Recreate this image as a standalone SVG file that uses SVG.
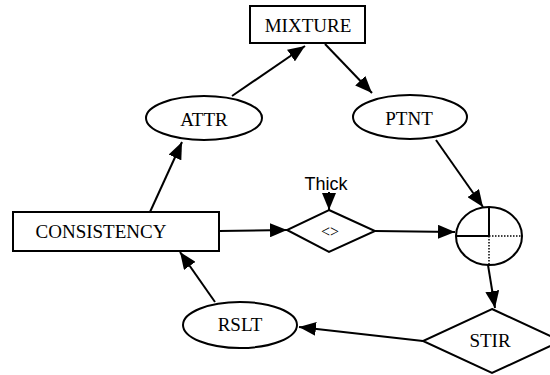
<svg xmlns="http://www.w3.org/2000/svg" width="550" height="375" viewBox="0 0 550 375">
  <style>
    .shape { fill: #fff; stroke: #000; stroke-width: 2; }
    .lbl { font-family: "Liberation Serif", "Times New Roman", serif; font-size: 19px; fill: #000; text-anchor: middle; }
    .sans { font-family: "Liberation Sans", Arial, sans-serif; font-size: 18px; fill: #000; text-anchor: middle; }
    .edge { fill: none; stroke: #000; stroke-width: 2; marker-end: url(#arrow); }
  </style>
  <defs>
    <marker id="arrow" markerUnits="userSpaceOnUse" markerWidth="18" markerHeight="14" refX="17" refY="7" orient="auto">
      <path d="M0,0 L17,7 L0,14 z" fill="#000"/>
    </marker>
  </defs>
  <rect width="550" height="375" fill="#fff"/>

  <g id="connectors">
    <line class="edge" x1="232" y1="96" x2="305" y2="46"/>
    <line class="edge" x1="325" y1="44" x2="372" y2="93"/>
    <line class="edge" x1="436" y1="140" x2="483" y2="207"/>
    <line class="edge" x1="150" y1="212" x2="182" y2="142"/>
    <line class="edge" x1="219" y1="231" x2="287" y2="230"/>
    <line class="edge" x1="329" y1="192" x2="329" y2="210"/>
    <line class="edge" x1="375" y1="231" x2="455" y2="232"/>
    <line class="edge" x1="488" y1="265" x2="495" y2="308"/>
    <line class="edge" x1="423" y1="341" x2="299" y2="327"/>
    <line class="edge" x1="215" y1="302" x2="180" y2="252"/>
  </g>

  <g id="mixture">
    <rect class="shape" x="250" y="6" width="115" height="37"/>
    <text class="lbl" x="308" y="32">MIXTURE</text>
  </g>

  <g id="attr">
    <ellipse class="shape" cx="204" cy="118" rx="58" ry="22"/>
    <text class="lbl" x="204" y="126">ATTR</text>
  </g>

  <g id="ptnt">
    <ellipse class="shape" cx="410" cy="117" rx="57" ry="22"/>
    <text class="lbl" x="409" y="125">PTNT</text>
  </g>

  <g id="consistency">
    <rect class="shape" x="13" y="212" width="206" height="39"/>
    <text class="lbl" x="101" y="238">CONSISTENCY</text>
  </g>

  <g id="thick">
    <text class="sans" x="326" y="190">Thick</text>
  </g>

  <g id="compare">
    <polygon class="shape" points="329,210 375,231 329,252 287,230"/>
    <text class="lbl" x="330" y="237" style="font-size:16px">&lt;&gt;</text>
  </g>

  <g id="junction">
    <ellipse class="shape" cx="489" cy="236" rx="33" ry="29"/>
    <line x1="489" y1="207" x2="489" y2="236" stroke="#000" stroke-width="2"/>
    <line x1="456" y1="236" x2="489" y2="236" stroke="#000" stroke-width="2"/>
    <line x1="489" y1="236" x2="521" y2="236" stroke="#000" stroke-width="1.5" stroke-dasharray="1.5,1.5"/>
    <line x1="489" y1="236" x2="489" y2="264" stroke="#000" stroke-width="1.5" stroke-dasharray="1.5,1.5"/>
  </g>

  <g id="stir">
    <polygon class="shape" points="492,309 561,341 492,373 423,341"/>
    <text class="lbl" x="490" y="347">STIR</text>
  </g>

  <g id="rslt">
    <ellipse class="shape" cx="240" cy="325" rx="57" ry="23"/>
    <text class="lbl" x="240" y="331">RSLT</text>
  </g>
</svg>
